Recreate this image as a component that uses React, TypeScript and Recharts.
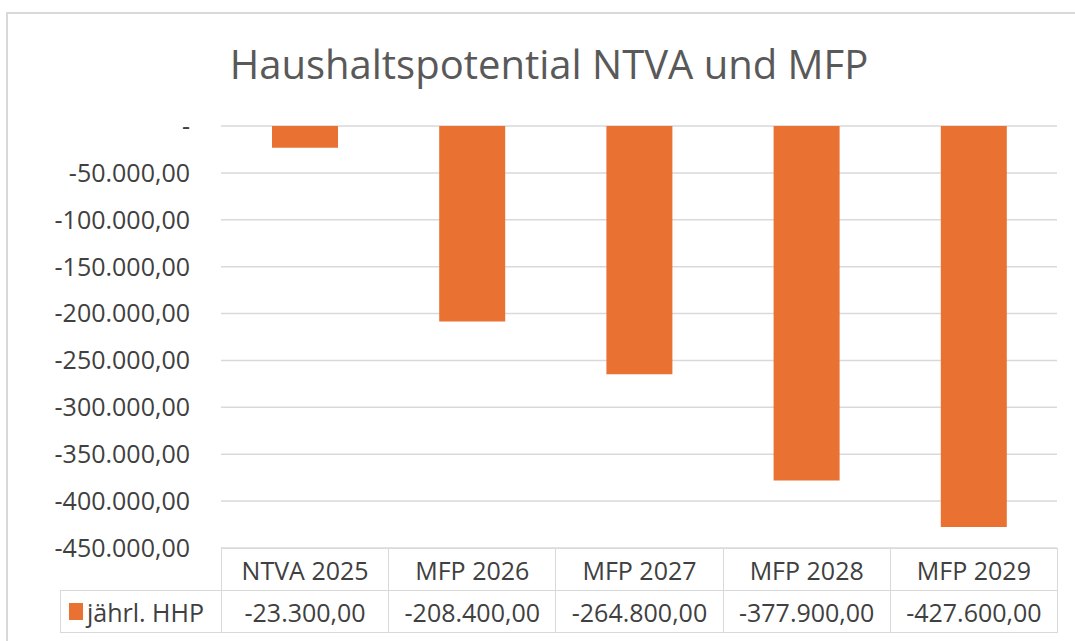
import { BarChart, Bar, XAxis, YAxis, CartesianGrid } from 'recharts';

const categories = ['NTVA 2025', 'MFP 2026', 'MFP 2027', 'MFP 2028', 'MFP 2029'];
const hhp = [-23300, -208400, -264800, -377900, -427600];
const yTicks = [0, -50000, -100000, -150000, -200000, -250000, -300000, -350000, -400000, -450000];
const seriesName = 'jährl. HHP';

const ORANGE = '#E97132';
const FONT = '"Open Sans", "Liberation Sans", sans-serif';

function fmt(v: number) {
  if (v === 0) return '-';
  const a = Math.abs(v);
  const int = Math.floor(a).toString().replace(/\B(?=(\d{3})+(?!\d))/g, '.');
  const dec = (Math.round(a * 100) % 100).toString().padStart(2, '0');
  return (v < 0 ? '-' : '') + int + ',' + dec;
}

const data = categories.map((name, i) => ({ name, value: hhp[i] }));

const PLOT_LEFT = 221;
const PLOT_RIGHT = 1057;
const COL_W = (PLOT_RIGHT - PLOT_LEFT) / categories.length;

export default function App() {
  const cell: React.CSSProperties = {
    position: 'absolute',
    boxSizing: 'border-box',
    border: '1.5px solid #d9d9d9',
    display: 'flex',
    alignItems: 'center',
    justifyContent: 'center',
    fontFamily: FONT,
    fontSize: 25,
    color: '#404040',
  };

  return (
    <div style={{ position: 'absolute', left: 0, top: 0, width: 1075, height: 641, background: '#fff', overflow: 'hidden' }}>
      <div style={{ position: 'absolute', left: 6, top: 12, width: 1100, height: 700, borderLeft: '2px solid #d9d9d9', borderTop: '2px solid #d9d9d9' }} />
      <div style={{ position: 'absolute', left: 0, width: 1098, top: 36, textAlign: 'center', fontFamily: FONT, fontSize: 40, color: '#595959' }}>
        Haushaltspotential NTVA und MFP
      </div>
      <div style={{ position: 'absolute', left: 0, top: 0 }}>
        <BarChart width={1075} height={641} data={data} margin={{ top: 126, right: 1075 - PLOT_RIGHT, bottom: 641 - 548, left: 0 }}>
          <CartesianGrid horizontal vertical={false} stroke="#d9d9d9" strokeWidth={1.5} />
          <XAxis dataKey="name" hide />
          <YAxis
            width={PLOT_LEFT}
            domain={[-450000, 0]}
            ticks={yTicks}
            tickFormatter={fmt}
            axisLine={false}
            tickLine={false}
            tickMargin={25}
            tick={{ fill: '#404040', fontSize: 25, fontFamily: FONT }}
          />
          <Bar dataKey="value" fill={ORANGE} barSize={66} isAnimationActive={false} />
        </BarChart>
      </div>
      {categories.map((c, i) => (
        <div key={'h' + i} style={{ ...cell, left: PLOT_LEFT + i * COL_W, top: 548, width: COL_W + 1, height: 43 }}>{c}</div>
      ))}
      <div style={{ ...cell, left: 60, top: 590, width: PLOT_LEFT - 60 + 1, height: 43, justifyContent: 'flex-start', paddingLeft: 8 }}>
        <span style={{ display: 'inline-block', width: 14, height: 17, background: ORANGE, marginRight: 4 }} />
        {seriesName}
      </div>
      {hhp.map((v, i) => (
        <div key={'v' + i} style={{ ...cell, left: PLOT_LEFT + i * COL_W, top: 590, width: COL_W + 1, height: 43 }}>{fmt(v)}</div>
      ))}
    </div>
  );
}
